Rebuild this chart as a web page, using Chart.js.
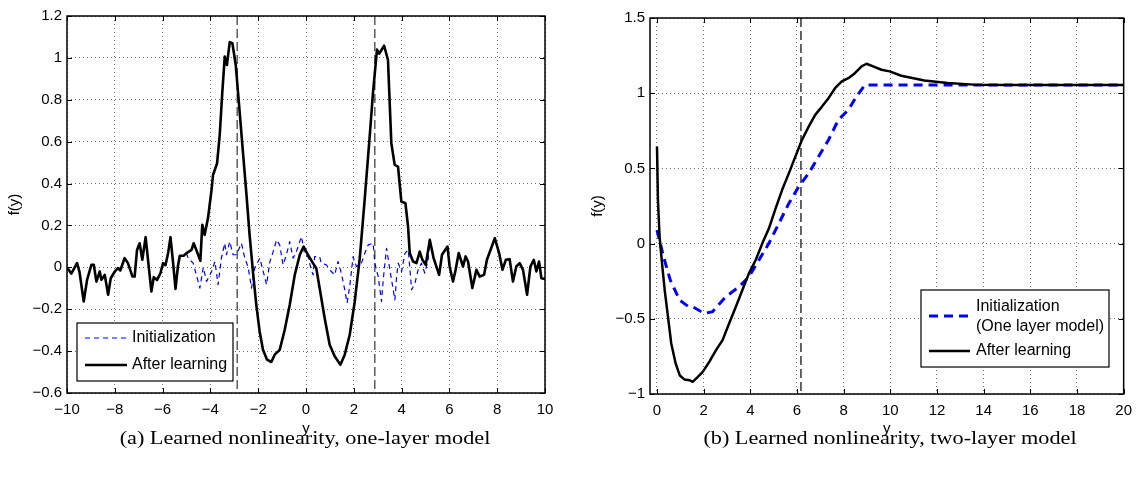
<!DOCTYPE html>
<html lang="en">
<head>
<meta charset="UTF-8">
<title>Learned nonlinearity</title>
<script src="https://cdn.jsdelivr.net/npm/chart.js"></script>
<style>
  body { margin: 0; width: 1140px; height: 483px; background: #fff; position: relative; overflow: hidden; }
  canvas { position: absolute; top: 0; }
  #left { left: 0; }
  #right { left: 580px; }
  .caption { position: absolute; top: 425px; line-height: 26px; font-family: "Liberation Serif", "DejaVu Serif", serif; font-size: 19px; color: #000; white-space: nowrap; transform: translateX(-50%) scaleX(1.17); }
</style>
</head>
<body>
<canvas id="left" width="580" height="440"></canvas>
<canvas id="right" width="560" height="440"></canvas>
<div class="caption" style="left:305px">(a) Learned nonlinearity, one-layer model</div>
<div class="caption" style="left:890px">(b) Learned nonlinearity, two-layer model</div>

<script>
// (a) one-layer model
const leftX = [-10.0,-9.82,-9.58,-9.48,-9.30,-9.16,-8.98,-8.88,-8.77,-8.63,
  -8.56,-8.42,-8.28,-8.17,-8.00,-7.87,-7.77,-7.59,-7.45,-7.26,
  -7.17,-7.07,-6.96,-6.85,-6.71,-6.61,-6.47,-6.37,-6.23,-6.09,
  -5.98,-5.88,-5.77,-5.67,-5.56,-5.46,-5.36,-5.28,-5.12,-5.00,
  -4.79,-4.70,-4.58,-4.42,-4.34,-4.24,-4.10,-3.96,-3.89,-3.72,
  -3.61,-3.50,-3.40,-3.31,-3.19,-3.08,-2.94,-2.80,-2.64,-2.49,
  -2.36,-2.22,-2.08,-1.94,-1.80,-1.63,-1.45,-1.31,-1.10,-0.89,
  -0.68,-0.47,-0.26,-0.10,0.08,0.29,0.43,0.57,0.78,0.99,
  1.20,1.44,1.62,1.83,2.04,2.25,2.46,2.67,2.80,2.97,
  3.06,3.27,3.43,3.57,3.71,3.85,3.99,4.16,4.27,4.34,
  4.48,4.62,4.76,4.87,5.01,5.18,5.34,5.57,5.69,5.92,
  6.01,6.15,6.26,6.39,6.57,6.68,6.78,6.96,7.13,7.27,
  7.45,7.57,7.90,8.08,8.22,8.36,8.52,8.66,8.80,8.94,
  9.08,9.25,9.39,9.53,9.64,9.75,9.85,10.0];
const leftAfter = [0.0,-0.03,0.02,-0.02,-0.163,-0.06,0.012,0.012,-0.068,-0.02,
  -0.06,-0.036,-0.131,-0.052,-0.02,-0.004,-0.015,0.044,0.02,-0.044,
  -0.044,0.083,0.115,0.036,0.144,0.036,-0.115,-0.047,-0.06,-0.028,
  0.02,0.01,0.068,0.144,0.02,-0.103,0.004,0.055,0.055,0.068,
  0.083,0.115,0.08,0.031,0.203,0.155,0.235,0.362,0.441,0.497,
  0.632,0.839,1.006,0.966,1.075,1.07,0.966,0.775,0.552,0.346,
  0.155,-0.02,-0.179,-0.306,-0.394,-0.441,-0.452,-0.417,-0.394,-0.298,
  -0.179,-0.036,0.06,0.099,0.06,0.02,-0.004,-0.099,-0.242,-0.37,
  -0.425,-0.465,-0.417,-0.322,-0.163,0.044,0.33,0.632,0.83,1.04,
  1.02,1.058,0.99,0.593,0.489,0.481,0.314,0.306,0.195,0.068,
  0.028,0.02,0.075,0.036,0.012,0.131,0.044,-0.036,0.06,0.099,
  0.004,-0.068,-0.012,0.068,0.004,0.052,0.028,-0.099,-0.012,-0.044,
  -0.036,0.036,0.139,0.068,-0.012,0.036,0.039,-0.068,0.004,0.02,
  -0.012,-0.131,0.004,0.036,-0.02,0.028,-0.052,-0.056];
const leftInitX = [-5.00,-4.93,-4.72,-4.44,-4.30,-4.16,-3.95,-3.81,-3.68,-3.54,
  -3.40,-3.33,-3.19,-3.05,-2.91,-2.70,-2.56,-2.42,-2.28,-2.14,
  -1.93,-1.79,-1.65,-1.51,-1.37,-1.23,-1.10,-0.96,-0.82,-0.68,
  -0.54,-0.40,-0.19,-0.05,0.085,0.22,0.30,0.36,0.57,0.64,
  0.85,1.06,1.20,1.34,1.48,1.62,1.72,1.83,1.97,2.11,
  2.32,2.46,2.60,2.81,2.88,3.02,3.16,3.23,3.37,3.51,
  3.72,3.79,3.86,4.00,4.14,4.28,4.42,4.56,4.69,4.83,
  4.97,5.11,5.18];
const leftInit = [0.068,0.044,0.020,-0.099,0.0,-0.067,-0.020,0.028,-0.083,0.044,
  0.115,0.060,0.123,0.060,0.060,0.115,0.044,0.0,-0.099,0.0,
  0.044,-0.020,-0.083,0.028,0.076,0.131,0.107,0.012,0.060,0.123,
  0.044,0.076,0.147,0.060,0.051,-0.012,-0.036,0.051,0.051,0.020,
  0.012,-0.020,-0.036,0.028,-0.028,-0.107,-0.170,-0.091,0.051,0.004,
  0.020,0.067,0.107,0.115,0.020,-0.044,-0.163,-0.060,0.091,-0.012,
  -0.155,-0.044,0.020,-0.020,0.067,0.083,-0.107,-0.075,-0.012,0.020,
  -0.028,0.036,0.131];
const leftXTicks = [-10,-8,-6,-4,-2,0,2,4,6,8,10];
const leftYTicks = [-0.6,-0.4,-0.2,0,0.2,0.4,0.6,0.8,1,1.2];
const leftMarkers = [-2.88, 2.88];

// (b) two-layer model
const rightX = [0.0,0.04,0.11,0.23,0.33,0.47,0.61,0.80,0.97,1.18,
  1.39,1.53,1.75,1.96,2.24,2.53,2.81,3.09,3.38,3.66,
  3.94,4.23,4.51,4.79,5.08,5.36,5.65,5.93,6.21,6.50,
  6.78,7.07,7.35,7.63,7.92,8.20,8.48,8.77,8.98,9.26,
  9.62,9.97,10.47,11.46,12.45,13.58,15.0,17.13,20.0];
const rightAfter = [0.645,0.29,0.047,-0.154,-0.309,-0.486,-0.664,-0.797,-0.875,-0.904,
  -0.908,-0.919,-0.886,-0.853,-0.786,-0.708,-0.642,-0.531,-0.420,-0.309,
  -0.198,-0.109,0.0,0.098,0.232,0.356,0.467,0.578,0.689,0.778,
  0.856,0.911,0.967,1.033,1.078,1.100,1.133,1.178,1.196,1.178,
  1.156,1.145,1.116,1.085,1.068,1.057,1.055,1.055,1.055];
const rightInitX = [0.0,0.28,0.57,0.97,1.32,1.53,2.03,2.38,2.95,3.52,
  3.94,4.37,4.79,5.22,5.65,6.07,6.50,6.92,7.35,7.77,
  8.20,8.55,8.91,20.0];
const rightInit = [0.09,-0.087,-0.243,-0.376,-0.416,-0.420,-0.464,-0.453,-0.353,-0.287,
  -0.220,-0.109,0.0,0.133,0.267,0.378,0.467,0.578,0.689,0.822,
  0.889,0.978,1.055,1.055];
const rightXTicks = [0,2,4,6,8,10,12,14,16,18,20];
const rightYTicks = [-1,-0.5,0,0.5,1,1.5];
const rightMarkers = [6.17];

const FONT = "'Liberation Sans', Arial, sans-serif";

function pairs(xs, ys) {
  return xs.map((x, i) => ({x: x, y: ys[i]}));
}

function fmt(v) {
  return String(Number(v.toFixed(2))).replace('-', '\u2212');
}

// frame, inward ticks, dashed markers and the legend box
const decor = {
  id: 'decor',
  beforeDatasetsDraw(chart, args, opts) {
    const ctx = chart.ctx, a = chart.chartArea, xs = chart.scales.x;
    ctx.save();
    ctx.strokeStyle = opts.markerColor;
    ctx.lineWidth = 1.2;
    ctx.setLineDash([9, 4]);
    opts.markers.forEach(m => {
      const px = xs.getPixelForValue(m);
      ctx.beginPath();
      ctx.moveTo(px, a.top);
      ctx.lineTo(px, a.bottom);
      ctx.stroke();
    });
    ctx.restore();
  },
  afterDraw(chart, args, opts) {
    const ctx = chart.ctx, a = chart.chartArea;
    const xs = chart.scales.x, ys = chart.scales.y;
    ctx.save();
    ctx.strokeStyle = '#000';
    ctx.lineWidth = 1.5;
    ctx.strokeRect(a.left, a.top, a.right - a.left, a.bottom - a.top);
    ctx.lineWidth = 1;
    ctx.beginPath();
    xs.ticks.forEach(t => {
      const px = Math.round(xs.getPixelForValue(t.value)) + 0.5;
      ctx.moveTo(px, a.bottom); ctx.lineTo(px, a.bottom - 5);
      ctx.moveTo(px, a.top); ctx.lineTo(px, a.top + 5);
    });
    ys.ticks.forEach(t => {
      const py = Math.round(ys.getPixelForValue(t.value)) + 0.5;
      ctx.moveTo(a.left, py); ctx.lineTo(a.left + 5, py);
      ctx.moveTo(a.right, py); ctx.lineTo(a.right - 5, py);
    });
    ctx.stroke();

    // legend
    const L = opts.legend;
    ctx.fillStyle = '#fff';
    ctx.fillRect(L.x, L.y, L.w, L.h);
    ctx.strokeStyle = '#000';
    ctx.lineWidth = 1.2;
    ctx.strokeRect(L.x, L.y, L.w, L.h);
    ctx.font = '16px ' + FONT;
    ctx.textBaseline = 'middle';
    ctx.fillStyle = '#000';
    L.items.forEach(it => {
      const ds = chart.data.datasets[it.ds];
      ctx.strokeStyle = ds.borderColor;
      ctx.lineWidth = ds.borderWidth;
      ctx.setLineDash(ds.borderDash || []);
      ctx.beginPath();
      ctx.moveTo(L.x + L.sx0, it.y);
      ctx.lineTo(L.x + L.sx1, it.y);
      ctx.stroke();
      ctx.setLineDash([]);
      it.lines.forEach((txt, k) => ctx.fillText(txt, L.x + L.tx, it.ty[k]));
    });
    ctx.restore();
  }
};

function axisCfg(min, max, tickVals, titleText, horiz, titlePad, size) {
  return {
    type: 'linear',
    min: min,
    max: max,
    afterBuildTicks: s => { s.ticks = tickVals.map(v => ({value: v})); },
    afterFit: s => { if (horiz) s.height = size; else s.width = size; },
    grid: {
      color: 'rgba(0,0,0,0.55)',
      lineWidth: 1,
      drawTicks: false
    },
    border: { display: false, dash: [1, 3] },
    ticks: {
      padding: horiz ? 8 : 5,
      color: '#000',
      font: { family: FONT, size: 15 },
      maxRotation: 0,
      autoSkip: false,
      callback: v => fmt(v)
    },
    title: {
      display: true,
      text: titleText,
      color: '#000',
      font: { family: FONT, size: 15 },
      padding: titlePad
    }
  };
}

function makeChart(id, cfg) {
  const xAxis = axisCfg(cfg.xMin, cfg.xMax, cfg.xTicks, 'y', true, {top: 0, bottom: 2}, cfg.xHeight);
  const yAxis = axisCfg(cfg.yMin, cfg.yMax, cfg.yTicks, 'f(y)', false, {top: cfg.yTitlePad, bottom: 0}, cfg.yWidth);
  return new Chart(document.getElementById(id), {
    type: 'line',
    data: { datasets: cfg.datasets },
    options: {
      responsive: false,
      animation: false,
      devicePixelRatio: 1,
      layout: { padding: cfg.padding },
      elements: { point: { radius: 0 }, line: { tension: 0, borderJoinStyle: 'round', borderCapStyle: 'butt' } },
      plugins: {
        legend: { display: false },
        tooltip: { enabled: false },
        decor: cfg.decor
      },
      scales: { x: xAxis, y: yAxis }
    },
    plugins: [decor]
  });
}

// grid lines dotted
Chart.defaults.scale.grid.borderDash = [1, 3];

makeChart('left', {
  xMin: -10, xMax: 10, xTicks: leftXTicks,
  yMin: -0.6, yMax: 1.2, yTicks: leftYTicks,
  xHeight: 47, yWidth: 67, yTitlePad: 6,
  padding: { left: 0, top: 16, right: 35, bottom: 0 },
  datasets: [
    { label: 'After learning', data: pairs(leftX, leftAfter), borderColor: '#000', borderWidth: 2.6, fill: false },
    { label: 'Initialization', data: pairs(leftInitX, leftInit), borderColor: '#0000ff', borderWidth: 1.2, borderDash: [5, 4], fill: false }
  ],
  decor: {
    markers: leftMarkers,
    markerColor: '#333',
    legend: {
      x: 77, y: 323, w: 156, h: 58, sx0: 8, sx1: 50, tx: 55,
      items: [
        { ds: 1, y: 338, lines: ['Initialization'], ty: [338] },
        { ds: 0, y: 365, lines: ['After learning'], ty: [365] }
      ]
    }
  }
});

makeChart('right', {
  xMin: -0.3, xMax: 20, xTicks: rightXTicks,
  yMin: -1, yMax: 1.5, yTicks: rightYTicks,
  xHeight: 46, yWidth: 70, yTitlePad: 9,
  padding: { left: 0, top: 18, right: 12, bottom: 0 },
  datasets: [
    { label: 'After learning', data: pairs(rightX, rightAfter), borderColor: '#000', borderWidth: 2.5, fill: false },
    { label: 'Initialization', data: pairs(rightInitX, rightInit), borderColor: '#0000ff', borderWidth: 3, borderDash: [9, 6], fill: false }
  ],
  decor: {
    markers: rightMarkers,
    markerColor: '#000',
    legend: {
      x: 341, y: 290, w: 188, h: 77, sx0: 8, sx1: 49, tx: 55,
      items: [
        { ds: 1, y: 316, lines: ['Initialization', '(One layer model)'], ty: [307, 327] },
        { ds: 0, y: 351, lines: ['After learning'], ty: [351] }
      ]
    }
  }
});
</script>
</body>
</html>
